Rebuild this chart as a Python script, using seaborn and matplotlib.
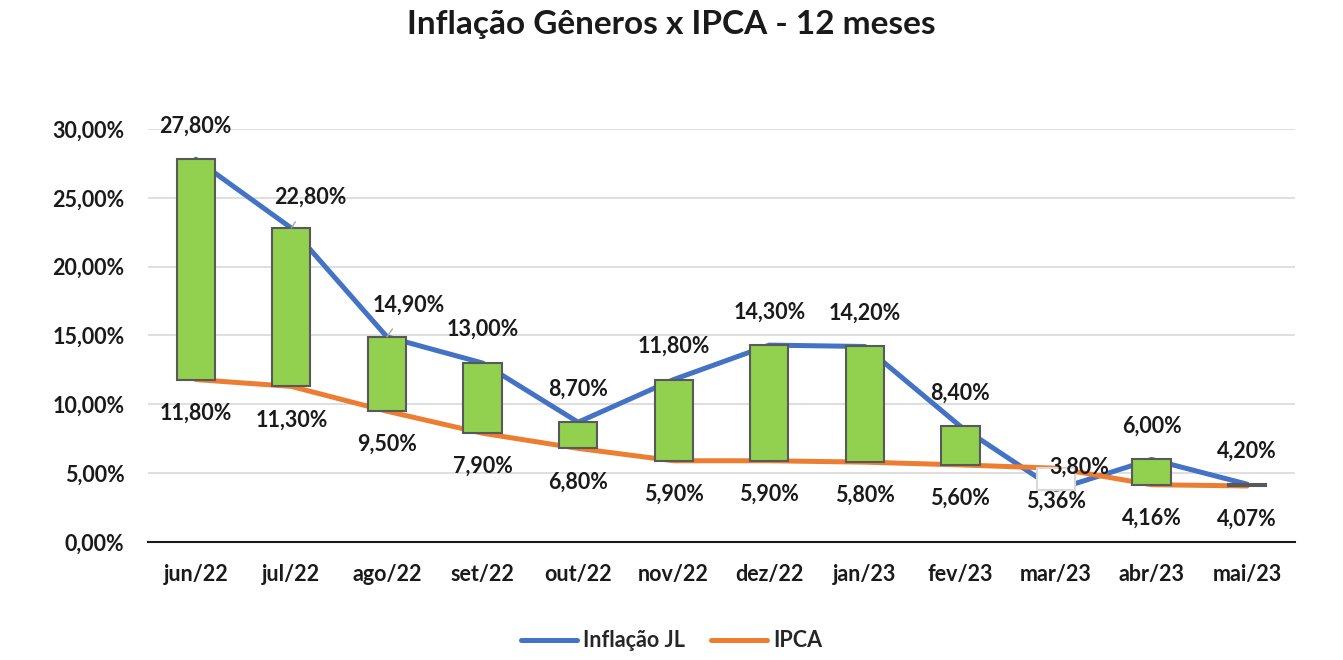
import numpy as np
import pandas as pd
import matplotlib
matplotlib.use("Agg")
import matplotlib.pyplot as plt
import seaborn as sns

# data
months = ["jun/22", "jul/22", "ago/22", "set/22", "out/22", "nov/22",
          "dez/22", "jan/23", "fev/23", "mar/23", "abr/23", "mai/23"]
inflacao_jl = [27.80, 22.80, 14.90, 13.00, 8.70, 11.80, 14.30, 14.20, 8.40, 3.80, 6.00, 4.20]
ipca = [11.80, 11.30, 9.50, 7.90, 6.80, 5.90, 5.90, 5.80, 5.60, 5.36, 4.16, 4.07]

# label offsets (points) where Excel labels were moved by hand
jl_offsets = {1: (14, 22), 2: (16, 23), 9: (17, 16)}
leaders = {1, 2}

sns.set_style("white")
plt.rcParams["font.family"] = ["Lato", "DejaVu Sans"]
plt.rcParams["font.weight"] = "bold"

colors = {"Inflação JL": "#4472C4", "IPCA": "#ED7D31"}
FS = 15.5

x = np.arange(len(months))
df = pd.concat([
    pd.DataFrame({"pos": x, "valor": inflacao_jl, "serie": "Inflação JL"}),
    pd.DataFrame({"pos": x, "valor": ipca, "serie": "IPCA"}),
])

fig = plt.figure(figsize=(13.43, 6.6), dpi=100)
ax = fig.add_axes([0.1102, 0.1788, 0.854, 0.6258])

sns.lineplot(data=df, x="pos", y="valor", hue="serie", palette=colors,
             linewidth=3.6, ax=ax, legend=False, zorder=2,
             solid_capstyle="round")

# up/down bars between the two series
jl = np.array(inflacao_jl)
ip = np.array(ipca)
up = jl >= ip
ax.bar(x[up], (jl - ip)[up], bottom=ip[up], width=0.4, color="#92D050",
       edgecolor="#595959", linewidth=1.5, zorder=3)
ax.bar(x[~up], (ip - jl)[~up], bottom=jl[~up], width=0.4, color="white",
       edgecolor="#D9D9D9", linewidth=1.5, zorder=3)

def fmt(v):
    return f"{v:.2f}%".replace(".", ",")

for i, v in enumerate(inflacao_jl):
    dx, dy = jl_offsets.get(i, (0, 24))
    ax.annotate(fmt(v), (i, v), xytext=(dx, dy), textcoords="offset points",
                ha="center", va="center", fontsize=FS, fontweight="bold",
                color="#1a1a1a", zorder=5,
                arrowprops=dict(arrowstyle="-", color="#A6A6A6", lw=1,
                                shrinkA=9, shrinkB=0) if i in leaders else None)
for i, v in enumerate(ipca):
    ax.annotate(fmt(v), (i, v), xytext=(0, -24), textcoords="offset points",
                ha="center", va="center", fontsize=FS, fontweight="bold",
                color="#1a1a1a", zorder=5)

ax.set_xlim(-0.5, len(months) - 0.5)
ax.set_ylim(0, 30)
ax.set_yticks(np.arange(0, 31, 5))
ax.yaxis.set_major_formatter(plt.FuncFormatter(lambda v, p: fmt(v)))
ax.set_xticks(x)
ax.set_xticklabels(months)
ax.tick_params(axis="y", length=0, pad=17, labelsize=FS, labelcolor="#1a1a1a")
ax.tick_params(axis="x", length=0, pad=16, labelsize=FS, labelcolor="#1a1a1a")
ax.set_xlabel("")
ax.set_ylabel("")

ax.grid(axis="y", color="#D9D9D9", linewidth=1.2, zorder=0)
ax.set_axisbelow(True)
for s in ["top", "right", "left"]:
    ax.spines[s].set_visible(False)
ax.spines["bottom"].set_color("#1a1a1a")
ax.spines["bottom"].set_linewidth(1.5)

fig.suptitle("Inflação Gêneros x IPCA - 12 meses", fontsize=24,
             fontweight="bold", y=0.985, color="#1a1a1a")

handles = [plt.Line2D([], [], color=colors[k], lw=3.6, solid_capstyle="round")
           for k in colors]
fig.legend(handles, list(colors), loc="center", bbox_to_anchor=(0.5, 0.029),
           ncol=2, frameon=False, handlelength=2.6,
           handletextpad=0.3, columnspacing=1.2,
           prop={"weight": "bold", "size": FS})

fig.savefig("out.png", dpi=100)
